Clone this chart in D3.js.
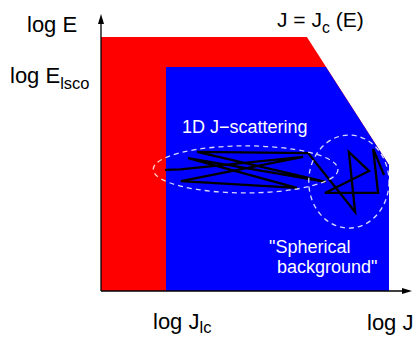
<!DOCTYPE html>
<html>
<head>
<meta charset="utf-8">
<script src="https://cdn.jsdelivr.net/npm/d3@7"></script>
<style>
  body { margin: 0; background: #fff; }
  svg { display: block; }
  text { font-family: "Liberation Sans", Arial, sans-serif; fill: #000; }
  .inner { fill: #fff; }
</style>
</head>
<body>
<svg width="416" height="337"></svg>
<script>
// schematic (log J, log E) plane, arbitrary units 0..10 on both axes
const lossConeJ = 2.09;     // log J_lc
const topE = 9.17;          // upper edge of red region
const iscoE = 8.09;         // log E_lsco
const jcTop = 6.62;         // J_c(E) at the top edge
const jcIsco = 7.23;        // J_c(E) at E_lsco
const jcKnee = [9.26, 4.55]; // where J_c(E) turns vertical

// outer (red) and inner (blue) regions
const redRegion = [[0, topE], [jcTop, topE], jcKnee, [jcKnee[0], 0], [0, 0]];
const blueRegion = [[lossConeJ, iscoE], [jcIsco, iscoE], jcKnee, [jcKnee[0], 0], [lossConeJ, 0]];

// random-walk track: 1D scattering in J, then spherical diffusion
const walk = [
  [2.06, 4.37], [2.55, 4.39], [6.50, 4.84], [2.57, 3.97], [6.30, 3.72],
  [2.80, 4.80], [7.23, 3.94], [3.09, 5.02], [6.66, 4.98], [8.17, 2.85],
  [7.97, 5.02], [8.62, 4.33], [7.20, 3.54], [8.91, 3.54], [8.75, 5.13],
  [9.10, 4.19]
];

// dashed regions: [cx, cy, rx, ry]
const zones = [
  [4.65, 4.39, 2.97, 0.85],
  [7.97, 3.95, 1.29, 1.68]
];

const svg = d3.select('svg');

const x = d3.scaleLinear().domain([0, 10]).range([101, 412]);
const y = d3.scaleLinear().domain([0, 10]).range([291, 14]);

const line = d3.line()
    .x(d => x(d[0]))
    .y(d => y(d[1]));

svg.append('path')
    .attr('d', line(redRegion) + 'Z')
    .attr('fill', '#ff0000');

svg.append('path')
    .attr('d', line(blueRegion) + 'Z')
    .attr('fill', '#0000ff');

svg.append('path')
    .attr('d', line(walk))
    .attr('fill', 'none')
    .attr('stroke', '#000')
    .attr('stroke-width', 2.3)
    .attr('stroke-linejoin', 'miter');

svg.selectAll('.zone')
    .data(zones).enter()
    .append('ellipse')
    .attr('cx', d => x(d[0]))
    .attr('cy', d => y(d[1]))
    .attr('rx', d => x(d[2]) - x(0))
    .attr('ry', d => y(0) - y(d[3]))
    .attr('fill', 'none')
    .attr('stroke', '#fff')
    .attr('stroke-opacity', 0.85)
    .attr('stroke-width', 1.3)
    .attr('stroke-dasharray', '5,4');

// axes with arrow heads
svg.append('line')
    .attr('x1', x(0)).attr('y1', y(0))
    .attr('x2', x(0)).attr('y2', y(10) + 8)
    .attr('stroke', '#000').attr('stroke-width', 1.3);
svg.append('line')
    .attr('x1', x(0)).attr('y1', y(0))
    .attr('x2', x(10) - 8).attr('y2', y(0))
    .attr('stroke', '#000').attr('stroke-width', 1.3);
svg.append('path')
    .attr('d', `M${x(0)},${y(10)}l-3,10l6,0Z`);
svg.append('path')
    .attr('d', `M${x(10)},${y(0)}l-10,-3l0,6Z`);

// labels
const label = (tx, ty, main, sub, rest, size, cls, shift = 6) => {
    const t = svg.append('text')
        .attr('x', tx).attr('y', ty)
        .attr('font-size', size)
        .attr('class', cls || null);
    t.append('tspan').text(main);
    if (sub) {
        t.append('tspan').attr('font-size', size * 0.75).attr('dy', shift).text(sub);
        if (rest) t.append('tspan').attr('dy', -shift).text(rest);
    }
};

label(27, 32, 'log E', null, null, 22);
label(10, 83, 'log E', 'lsco', null, 22);
label(277, 27, 'J = J', 'c', ' (E)', 21);
label(153, 329, 'log J', 'lc', null, 22, null, 4);
label(367, 330, 'log J', null, null, 22);
label(182, 133, '1D J\u2212scattering', null, null, 18, 'inner');
label(269, 253, '"Spherical', null, null, 18, 'inner');
label(277, 273, 'background"', null, null, 18, 'inner');
</script>
</body>
</html>
